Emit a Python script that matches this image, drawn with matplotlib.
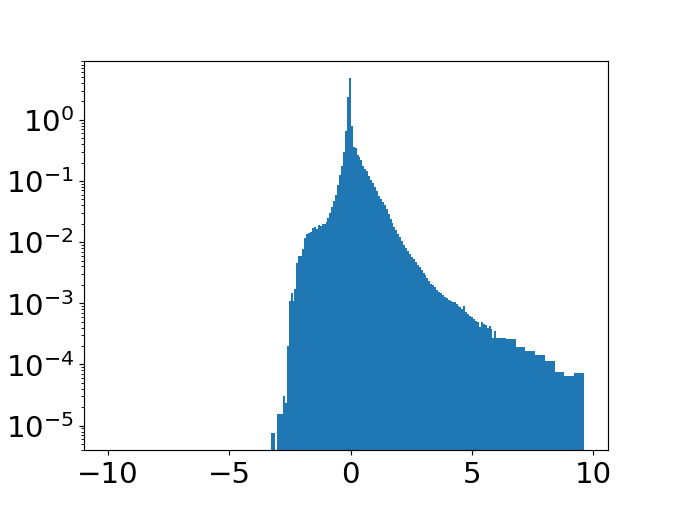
import numpy as np
import matplotlib
matplotlib.use("Agg")
import matplotlib.pyplot as plt

# bin edges: fine bins of 0.08 from -10 to 6, then 0.4 wide bins up to 9.6
fine_edges = np.linspace(-10, 6, 201)
wide_edges = np.linspace(6.4, 9.6, 9)
edges = np.concatenate([fine_edges, wide_edges])

# no counts between -10 and -3.28 (84 bins)
empty_bins = [0.0] * 84

# heights of the 0.08 bins from -3.28 to 6.0
fine_heights = [
    7.7e-6, 7.7e-6, 0.0, 1.54e-5, 1.54e-5, 1.54e-5, 3.06e-5, 2.39e-5,
    1.98e-4, 1.11e-3, 1.49e-3, 1.09e-3, 1.69e-3, 4.48e-3, 5.89e-3, 6.04e-3,
    7.86e-3, 1.19e-2, 1.38e-2, 1.43e-2, 1.45e-2, 1.73e-2, 1.75e-2, 1.67e-2,
    1.94e-2, 1.87e-2, 1.96e-2, 1.96e-2, 2.17e-2, 2.52e-2, 3.04e-2, 3.81e-2,
    4.77e-2, 5.98e-2, 8.70e-2, 0.127, 0.173, 0.293, 0.662, 2.40,
    4.79, 0.798, 0.359, 0.345, 0.268, 0.246, 0.217, 0.173,
    0.157, 0.144, 0.122, 0.105, 9.27e-2, 7.98e-2, 6.76e-2, 5.61e-2,
    5.14e-2, 4.59e-2, 4.03e-2, 3.53e-2, 2.93e-2, 2.38e-2, 2.05e-2, 1.80e-2,
    1.57e-2, 1.38e-2, 1.21e-2, 1.06e-2, 9.14e-3, 8.02e-3, 7.16e-3, 6.52e-3,
    5.82e-3, 5.30e-3, 4.73e-3, 4.23e-3, 3.92e-3, 3.51e-3, 3.19e-3, 2.90e-3,
    2.59e-3, 2.32e-3, 2.07e-3, 1.96e-3, 1.82e-3, 1.65e-3, 1.56e-3, 1.45e-3,
    1.35e-3, 1.27e-3, 1.20e-3, 1.14e-3, 1.09e-3, 1.07e-3, 1.05e-3, 9.78e-4,
    9.07e-4, 8.57e-4, 8.10e-4, 8.89e-4, 7.11e-4, 6.72e-4, 6.23e-4, 5.89e-4,
    5.57e-4, 5.16e-4, 4.88e-4, 4.12e-4, 5.01e-4, 4.61e-4, 4.36e-4, 3.97e-4,
    4.28e-4, 3.82e-4, 2.67e-4, 3.48e-4,
]

# heights of the 0.4 bins from 6.0 to 9.6
wide_heights = [2.75e-4, 2.64e-4, 1.96e-4, 1.65e-4, 1.43e-4, 1.14e-4,
                7.6e-5, 6.5e-5, 7.3e-5]

heights = np.array(empty_bins + fine_heights + wide_heights)
centers = (edges[:-1] + edges[1:]) / 2

fig, ax = plt.subplots(figsize=(6.4, 4.8), dpi=675 / 6.4)
ax.hist(centers, bins=edges, weights=heights, log=True)
ax.tick_params(axis='both', labelsize=20)

fig.savefig('out.png')
